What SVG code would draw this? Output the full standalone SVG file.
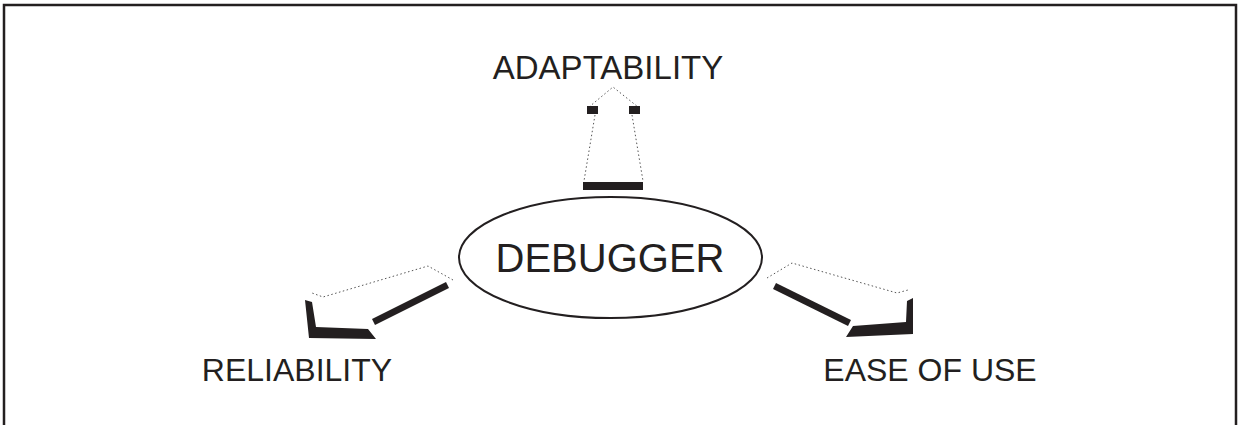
<svg xmlns="http://www.w3.org/2000/svg" width="1239" height="425" viewBox="0 0 1239 425">
<style>
.lbl{font-family:"Liberation Sans",Arial,sans-serif;fill:#231f20;text-anchor:middle}
.dot{fill:none;stroke:#555;stroke-width:1;stroke-dasharray:1.5 2.5}
.blk{fill:#231f20;stroke:none}
</style>
<rect width="1239" height="425" fill="#fff"/>
<path d="M4,430 V5 H1236 V430" fill="none" stroke="#231f20" stroke-width="2.5"/>
<g id="debugger">
<ellipse cx="610.5" cy="257.5" rx="151.5" ry="60.5" fill="#fff" stroke="#231f20" stroke-width="2"/>
<text class="lbl" x="610" y="272" font-size="40">DEBUGGER</text>
</g>
<g id="adaptability">
<text class="lbl" x="608" y="79" font-size="33">ADAPTABILITY</text>
</g>
<g id="reliability">
<text class="lbl" x="297" y="381" font-size="32">RELIABILITY</text>
</g>
<g id="ease-of-use">
<text class="lbl" x="930" y="381" font-size="32">EASE OF USE</text>
</g>
<g id="connectors">
<g id="arrow-up">
<path class="dot" d="M589,107 L613,87 L638,107"/>
<path class="dot" d="M595,115 L584,181 M632,115 L643,181"/>
<rect class="blk" x="587" y="106" width="11" height="8"/>
<rect class="blk" x="629" y="106" width="11" height="8"/>
<rect class="blk" x="583" y="182" width="60" height="8"/>
</g>
<g id="arrow-left">
<path class="dot" d="M453,280 L428,266 L323,297 L312,293"/>
<polygon class="blk" points="446,282 449,288 375,325 372,319"/>
<polygon class="blk" points="305,300 312,302 316,327 368,329 376,339 309,338"/>
</g>
<g id="arrow-right">
<path class="dot" d="M767,278 L792,263 L897,293 L908,290"/>
<polygon class="blk" points="776,283 851,320 848,326 773,289"/>
<polygon class="blk" points="913,298 913,334 846,337 853,326 906,322 907,301"/>
</g>
</g>
</svg>
